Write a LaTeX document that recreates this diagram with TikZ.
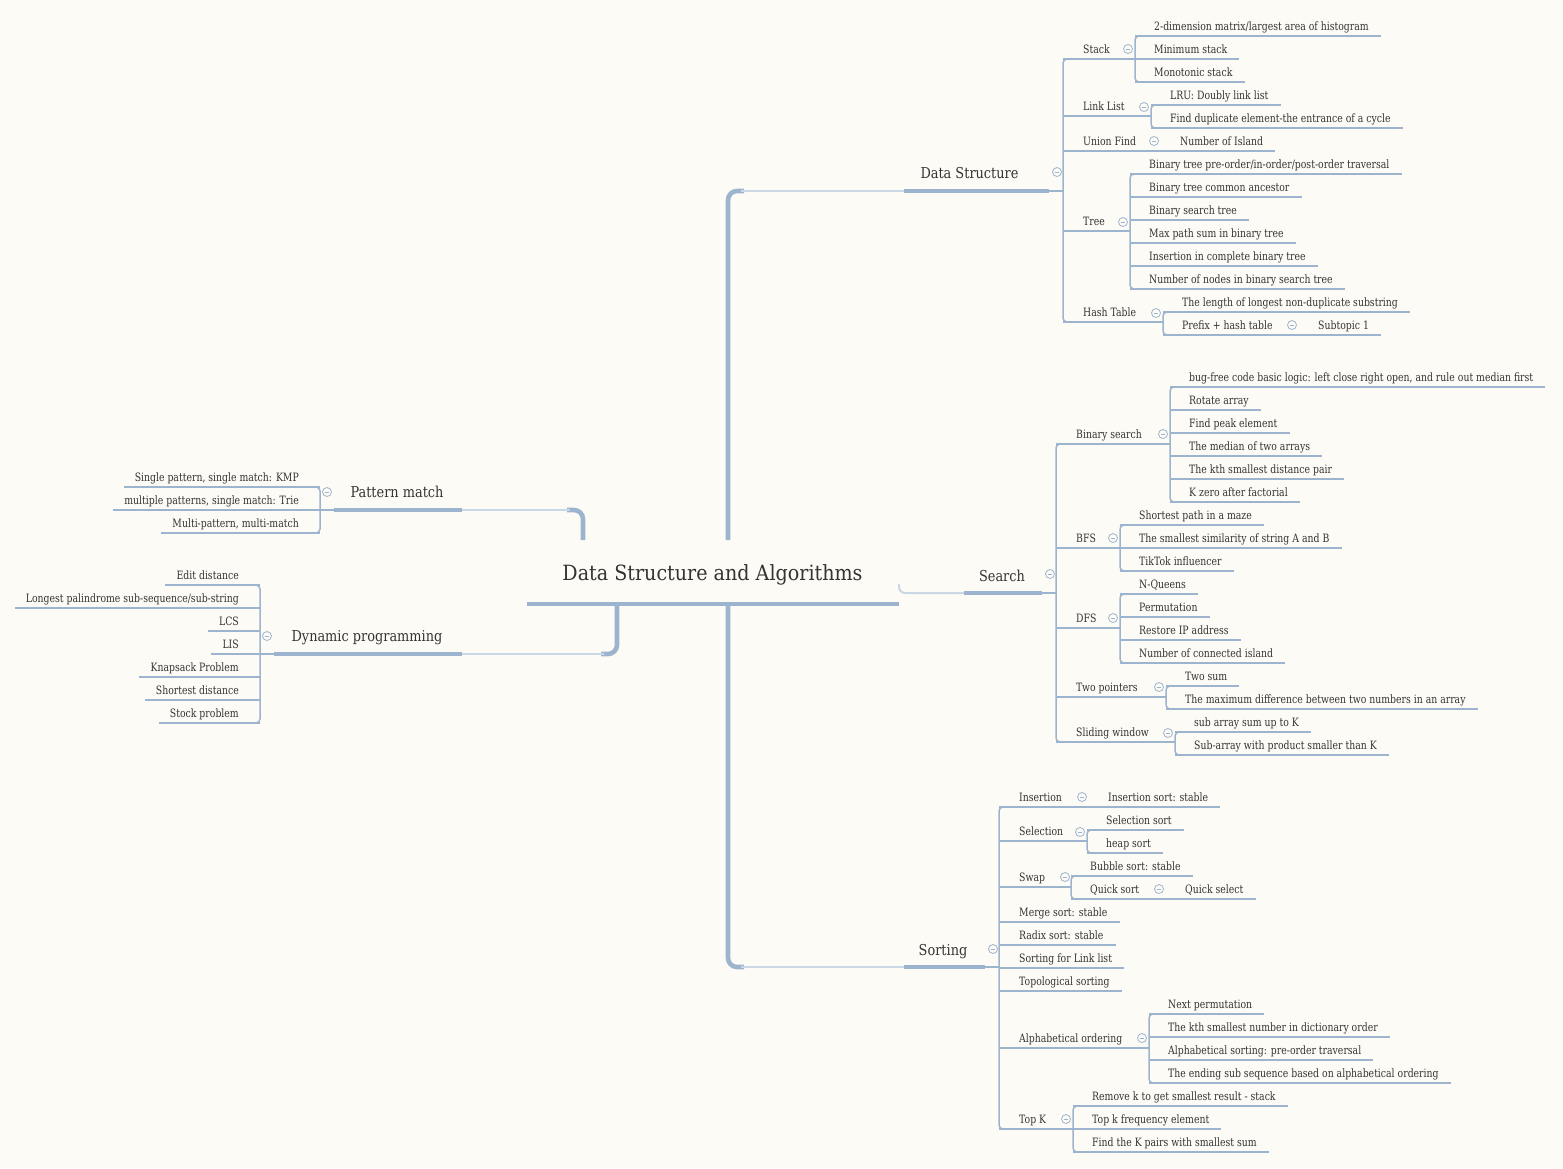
\documentclass[tikz,border=0pt]{standalone}
\usepackage{fontspec}
\setmainfont{DejaVu Serif}
\newfontfamily\leaffont{DejaVu Serif}[FakeStretch=0.81]
\newfontfamily\midfont{DejaVu Serif}[FakeStretch=0.86]
\newfontfamily\bigfont{DejaVu Serif}[FakeStretch=0.91]
\usetikzlibrary{calc}
\definecolor{bg}{HTML}{FDFBF5}
\definecolor{ln}{HTML}{9DB4CF}
\definecolor{lt}{HTML}{CAD7E6}
\definecolor{tx}{HTML}{333333}
\tikzset{
 leaf/.style={inner sep=0pt, text=tx, font=\leaffont\fontsize{11.5}{13}\selectfont},
 lone/.style={inner sep=0pt, text=tx, font=\midfont\fontsize{15}{18}\selectfont},
 ttl/.style={inner sep=0pt, text=tx, font=\bigfont\fontsize{21}{24}\selectfont},
 lk/.style={draw=ln, line width=1.5pt},
 br/.style={lk, rounded corners=4pt},
 thickline/.style={draw=ln, line width=3.5pt},
 trunk/.style={draw=ln, line width=4.6pt, rounded corners=9pt},
 soft/.style={draw=lt, line width=2pt},
 tog/.style={circle, draw=ln, line width=0.8pt, fill=bg, minimum size=9pt, inner sep=0pt,
   path picture={\draw[ln, line width=0.8pt] ([xshift=-2.4pt]path picture bounding box.center) -- ([xshift=2.4pt]path picture bounding box.center);}},
}
% right-side leaf: name, bracket x, line y, text x, text
\newcommand\rl[5]{\node[leaf,anchor=base west] (#1) at (#4,#3-6) {#5};
  \draw[lk] (#2,#3) -- ($(#1.base east)+(12,6)$);}
% left-side leaf
\newcommand\lleaf[5]{\node[leaf,anchor=base east] (#1) at (#4,#3-6) {#5};
  \draw[lk] (#2,#3) -- ($(#1.base west)+(-11,6)$);}
% parent subtopic: name, main bracket x, line y, text x, text, toggle x, toggle y, child bracket x
\newcommand\pn[8]{\node[leaf,anchor=base west] (#1) at (#4,#3-6) {#5};
  \draw[lk] (#2,#3) -- (#8,#3);
  \node[tog] (#1T) at (#6,#7) {};}
% brackets
\newcommand\rbr[3]{\draw[br] (#1+7,#2) -- (#1,#2) -- (#1,#3) -- (#1+7,#3);}
\newcommand\lbr[3]{\draw[br] (#1-7,#2) -- (#1,#2) -- (#1,#3) -- (#1-7,#3);}

\begin{document}
\begin{tikzpicture}[x=1pt,y=-1pt]
\useasboundingbox (0,0) rectangle (1563,1168);
\fill[bg] (0,0) rectangle (1563,1168);

% ---------- root ----------
\node[ttl, anchor=base] (root) at (712.5,580) {Data Structure and Algorithms};
\draw[draw=ln, line width=4.4pt] (527,604) -- (899,604);

% ---------- trunks ----------
% Data Structure
\draw[trunk] (728,540) -- (728,191) -- (744,191);
\draw[soft] (741,191) -- (904,191);
\draw[thickline] (904,191) -- (1049,191);
\draw[lk] (1049,191) -- (1063,191);
% Search
\draw[soft, rounded corners=6pt] (899,584) -- (899,593) -- (964,593);
\draw[thickline] (964,593) -- (1042,593);
\draw[lk] (1042,593) -- (1056,593);
% Sorting
\draw[trunk] (728,604) -- (728,967) -- (744,967);
\draw[soft] (741,967) -- (904,967);
\draw[thickline] (904,967) -- (985,967);
\draw[lk] (985,967) -- (999,967);
% Pattern match
\draw[trunk] (583,540) -- (583,510) -- (567,510);
\draw[soft] (570,510) -- (462,510);
\draw[thickline] (462,510) -- (334,510);
\draw[lk] (334,510) -- (320,510);
% Dynamic programming
\draw[trunk] (617,604) -- (617,654) -- (601,654);
\draw[soft] (604,654) -- (462,654);
\draw[thickline] (462,654) -- (274,654);
\draw[lk] (274,654) -- (260,654);

% ---------- main topics ----------
\node[lone, anchor=base] (ds) at (969.5,178) {Data Structure};
\node[tog] (dsT) at (1057,172) {};
\node[lone, anchor=base] (search) at (1002,581) {Search};
\node[tog] (searchT) at (1050,574) {};
\node[lone, anchor=base] (sorting) at (943,955) {Sorting};
\node[tog] (sortingT) at (993,949) {};
\node[lone, anchor=base] (pm) at (397,497) {Pattern match};
\node[tog] (pmT) at (327,492) {};
\node[lone, anchor=base] (dp) at (367,641) {Dynamic programming};
\node[tog] (dpT) at (267,636) {};

% ---------- Data Structure ----------
\rbr{1063}{59}{322}
\pn{stack}{1063}{59}{1083}{Stack}{1128}{49}{1135}
\rbr{1135}{36}{82}
\rl{st1}{1135}{36}{1154}{2-dimension matrix/largest area of histogram}
\rl{st2}{1135}{59}{1154}{Minimum stack}
\rl{st3}{1135}{82}{1154}{Monotonic stack}
\pn{link}{1063}{116}{1083}{Link List}{1144}{107}{1151}
\rbr{1151}{105}{128}
\rl{ll1}{1151}{105}{1170}{LRU: Doubly link list}
\rl{ll2}{1151}{128}{1170}{Find duplicate element-the entrance of a cycle}
\pn{uf}{1063}{151}{1083}{Union Find}{1154}{141}{1063}
\rl{uf1}{1063}{151}{1180}{Number of Island}
\pn{tree}{1063}{231}{1083}{Tree}{1123}{222}{1130}
\rbr{1130}{174}{289}
\rl{tr1}{1130}{174}{1149}{Binary tree pre-order/in-order/post-order traversal}
\rl{tr2}{1130}{197}{1149}{Binary tree common ancestor}
\rl{tr3}{1130}{220}{1149}{Binary search tree}
\rl{tr4}{1130}{243}{1149}{Max path sum in binary tree}
\rl{tr5}{1130}{266}{1149}{Insertion in complete binary tree}
\rl{tr6}{1130}{289}{1149}{Number of nodes in binary search tree}
\pn{hash}{1063}{322}{1083}{Hash Table}{1156}{313}{1163}
\rbr{1163}{312}{335}
\rl{ha1}{1163}{312}{1182}{The length of longest non-duplicate substring}
\pn{prefix}{1163}{335}{1182}{Prefix + hash table}{1292}{325}{1163}
\rl{pr1}{1163}{335}{1318}{Subtopic 1}

% ---------- Search ----------
\rbr{1056}{444}{742}
\pn{bs}{1056}{444}{1076}{Binary search}{1163}{434}{1170}
\rbr{1170}{387}{502}
\rl{bs1}{1170}{387}{1189}{bug-free code basic logic: left close right open, and rule out median first}
\rl{bs2}{1170}{410}{1189}{Rotate array}
\rl{bs3}{1170}{433}{1189}{Find peak element}
\rl{bs4}{1170}{456}{1189}{The median of two arrays}
\rl{bs5}{1170}{479}{1189}{The kth smallest distance pair}
\rl{bs6}{1170}{502}{1189}{K zero after factorial}
\pn{bfs}{1056}{548}{1076}{BFS}{1113}{538}{1120}
\rbr{1120}{525}{571}
\rl{bf1}{1120}{525}{1139}{Shortest path in a maze}
\rl{bf2}{1120}{548}{1139}{The smallest similarity of string A and B}
\rl{bf3}{1120}{571}{1139}{TikTok influencer}
\pn{dfs}{1056}{628}{1076}{DFS}{1113}{618}{1120}
\rbr{1120}{594}{663}
\rl{df1}{1120}{594}{1139}{N-Queens}
\rl{df2}{1120}{617}{1139}{Permutation}
\rl{df3}{1120}{640}{1139}{Restore IP address}
\rl{df4}{1120}{663}{1139}{Number of connected island}
\pn{tp}{1056}{697}{1076}{Two pointers}{1159}{687}{1166}
\rbr{1166}{686}{709}
\rl{tp1}{1166}{686}{1185}{Two sum}
\rl{tp2}{1166}{709}{1185}{The maximum difference between two numbers in an array}
\pn{sw}{1056}{742}{1076}{Sliding window}{1168}{733}{1175}
\rbr{1175}{732}{755}
\rl{sw1}{1175}{732}{1194}{sub array sum up to K}
\rl{sw2}{1175}{755}{1194}{Sub-array with product smaller than K}

% ---------- Sorting ----------
\rbr{999}{807}{1129}
\pn{ins}{999}{807}{1019}{Insertion}{1082}{797}{999}
\rl{in1}{999}{807}{1108}{Insertion sort: stable}
\pn{sel}{999}{841}{1019}{Selection}{1080}{832}{1087}
\rbr{1087}{830}{853}
\rl{se1}{1087}{830}{1106}{Selection sort}
\rl{se2}{1087}{853}{1106}{heap sort}
\pn{swap}{999}{887}{1019}{Swap}{1065}{877}{1071}
\rbr{1071}{876}{899}
\rl{sp1}{1071}{876}{1090}{Bubble sort: stable}
\pn{qs}{1071}{899}{1090}{Quick sort}{1159}{889}{1071}
\rl{qs1}{1071}{899}{1185}{Quick select}
\rl{so1}{999}{922}{1019}{Merge sort: stable}
\rl{so2}{999}{945}{1019}{Radix sort: stable}
\rl{so3}{999}{968}{1019}{Sorting for Link list}
\rl{so4}{999}{991}{1019}{Topological sorting}
\pn{alpha}{999}{1048}{1019}{Alphabetical ordering}{1142}{1038}{1149}
\rbr{1149}{1014}{1083}
\rl{al1}{1149}{1014}{1168}{Next permutation}
\rl{al2}{1149}{1037}{1168}{The kth smallest number in dictionary order}
\rl{al3}{1149}{1060}{1168}{Alphabetical sorting: pre-order traversal}
\rl{al4}{1149}{1083}{1168}{The ending sub sequence based on alphabetical ordering}
\pn{topk}{999}{1129}{1019}{Top K}{1066}{1119}{1073}
\rbr{1073}{1106}{1152}
\rl{tk1}{1073}{1106}{1092}{Remove k to get smallest result - stack}
\rl{tk2}{1073}{1129}{1092}{Top k frequency element}
\rl{tk3}{1073}{1152}{1092}{Find the K pairs with smallest sum}

% ---------- Pattern match ----------
\lbr{320}{487}{533}
\lleaf{pm1}{320}{487}{299}{Single pattern, single match: KMP}
\lleaf{pm2}{320}{510}{299}{multiple patterns, single match: Trie}
\lleaf{pm3}{320}{533}{299}{Multi-pattern, multi-match}

% ---------- Dynamic programming ----------
\lbr{260}{585}{723}
\lleaf{dp1}{260}{585}{239}{Edit distance}
\lleaf{dp2}{260}{608}{239}{Longest palindrome sub-sequence/sub-string}
\lleaf{dp3}{260}{631}{239}{LCS}
\lleaf{dp4}{260}{654}{239}{LIS}
\lleaf{dp5}{260}{677}{239}{Knapsack Problem}
\lleaf{dp6}{260}{700}{239}{Shortest distance}
\lleaf{dp7}{260}{723}{239}{Stock problem}
\end{tikzpicture}
\end{document}
